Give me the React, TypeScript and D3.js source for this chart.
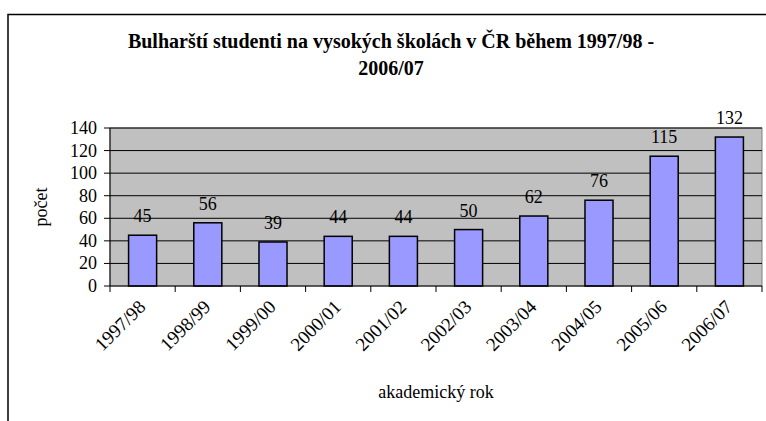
import React from "react";
import * as d3 from "d3";

const categories = ["1997/98", "1998/99", "1999/00", "2000/01", "2001/02", "2002/03", "2003/04", "2004/05", "2005/06", "2006/07"];
const values = [45, 56, 39, 44, 44, 50, 62, 76, 115, 132];
const yTicks = [0, 20, 40, 60, 80, 100, 120, 140];
const titleLines = ["Bulharští studenti na vysokých školách v ČR během 1997/98 -", "2006/07"];
const yTitle = "počet";
const xTitle = "akademický rok";

const W = 766;
const H = 421;
const plot = { left: 110, right: 762, top: 128, bottom: 286 };
const FONT = "'Liberation Serif', 'Times New Roman', Times, serif";

export default function App() {
  const x = d3.scaleBand<string>().domain(categories).range([plot.left, plot.right]).paddingInner(0.57).paddingOuter(0.285);
  const xStep = d3.scaleBand<string>().domain(categories).range([plot.left, plot.right]).padding(0);
  const y = d3.scaleLinear().domain([0, 140]).range([plot.bottom, plot.top]);
  const tickXs = [...categories.map((c) => xStep(c)!), plot.right];

  return (
    <svg width={W} height={H} style={{ position: "absolute", left: 0, top: 0, background: "#fff", fontFamily: FONT }}>
      <rect x={8} y={14.5} width={W + 20} height={H + 20} fill="#fff" stroke="#000" strokeWidth={1.5} />
      <text x={391} y={47.5} textAnchor="middle" fontWeight="bold" fontSize={20}>{titleLines[0]}</text>
      <text x={391} y={75} textAnchor="middle" fontWeight="bold" fontSize={20}>{titleLines[1]}</text>

      <rect x={plot.left} y={plot.top} width={plot.right - plot.left} height={plot.bottom - plot.top} fill="#C0C0C0" stroke="#808080" strokeWidth={1} />
      {yTicks.filter((t) => t > 0).map((t) => (
        <line key={t} x1={plot.left} x2={plot.right} y1={y(t)} y2={y(t)} stroke="#000" strokeWidth={1} />
      ))}
      {values.map((v, i) => (
        <rect key={i} x={x(categories[i])} y={y(v)} width={x.bandwidth()} height={y(0) - y(v)} fill="#9999FF" stroke="#000" strokeWidth={1.5} />
      ))}
      {values.map((v, i) => (
        <text key={i} x={x(categories[i])! + x.bandwidth() / 2} y={y(v) - 13} textAnchor="middle" fontSize={18} fill="#000">{v}</text>
      ))}

      <line x1={plot.left} x2={plot.left} y1={plot.top} y2={plot.bottom} stroke="#000" strokeWidth={1} />
      <line x1={plot.left} x2={plot.right} y1={plot.bottom} y2={plot.bottom} stroke="#000" strokeWidth={1} />
      {yTicks.map((t) => (
        <g key={t}>
          <line x1={plot.left - 6} x2={plot.left} y1={y(t)} y2={y(t)} stroke="#000" />
          <text x={97} y={y(t)} dy="0.33em" textAnchor="end" fontSize={18}>{t}</text>
        </g>
      ))}
      {tickXs.map((tx, i) => (
        <line key={i} x1={tx} x2={tx} y1={plot.bottom} y2={plot.bottom + 6} stroke="#000" />
      ))}
      {categories.map((c) => {
        const cx = xStep(c)! + xStep.bandwidth() / 2;
        return (
          <text key={c} transform={`translate(${cx + 4},${308}) rotate(-45)`} textAnchor="end" fontSize={19}>{c}</text>
        );
      })}
      <text transform={`translate(47,${(plot.top + plot.bottom) / 2}) rotate(-90)`} textAnchor="middle" fontSize={18}>{yTitle}</text>
      <text x={(plot.left + plot.right) / 2} y={398} textAnchor="middle" fontSize={18}>{xTitle}</text>
    </svg>
  );
}
